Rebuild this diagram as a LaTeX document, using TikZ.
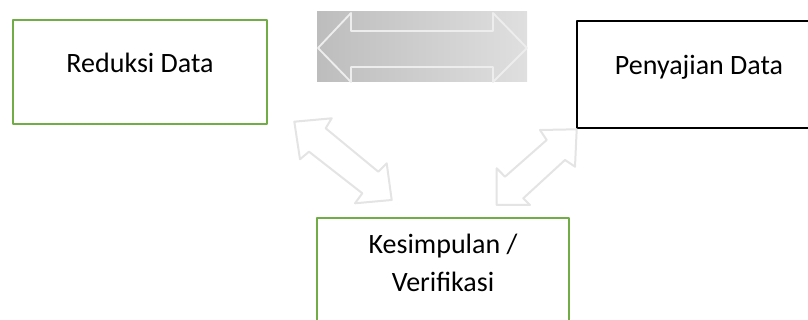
\documentclass[tikz,border=0pt]{standalone}
\usepackage{fontspec}
\setmainfont{Carlito}
\definecolor{verde}{HTML}{70AD47}
\definecolor{grigiofreccia}{HTML}{E4E4E4}
\definecolor{grigioscuro}{HTML}{BDBDBD}
\definecolor{grigiochiaro}{HTML}{DFDFDF}
\tikzset{
  kotak/.style={draw, line width=2pt, inner sep=0pt, line join=round},
  teks/.style={font=\fontsize{21}{28.5}\selectfont, inner sep=0pt, align=center, anchor=base},
  freccia/.style={draw=grigiofreccia, line width=1.5pt, fill=white, line join=round}
}
\begin{document}
\begin{tikzpicture}[x=0.75pt, y=-0.75pt]
    \useasboundingbox (0,0) rectangle (808,320);
    %disegno box Reduksi Data
    \node[kotak, verde, minimum width=190.5pt, minimum height=78pt] (reduksi) at (140,72) {};
    \node[teks] (treduksi) at ([yshift=-0.75pt]reduksi.center) {Reduksi Data};
    %disegno box Penyajian Data
    \node[kotak, black, minimum width=183pt, minimum height=80.25pt] (penyajian) at (699,74.5) {};
    \node[teks] (tpenyajian) at (penyajian.center) {Penyajian Data};
    %disegno box Kesimpulan / Verifikasi
    \node[kotak, verde, minimum width=189pt, minimum height=80.25pt] (kesimpulan) at (443,271.5) {};
    \node[teks] (tkesimpulan) at ([yshift=-56.25pt]kesimpulan.north) {Kesimpulan /\\Verifikasi};
    %%%%%%%%%%%%%%%%%%%%%%%%%%%%%%%%%%%%%%%%%%%%%%%%%%%%%%%%%%%%%%%%%%%%%%%%%%
    %disegno freccia orizzontale su sfondo grigio
    \shade[left color=grigioscuro, right color=grigiochiaro] (317,12) rectangle (527,82);
    \draw[draw=white!93!black, line width=1.4pt, line join=round]
      (318,48)--(351,13)--(351,31)--(493,31)--(493,13)--(527,48)--(493,82)--(493,67)--(351,67)--(351,82)--cycle;
    %disegno freccia Reduksi - Kesimpulan
    \draw[freccia] (294.3,121.7)--(331.7,118.3)--(325.7,128.3)--(378.3,171.7)--(386.7,163.3)--(391.7,200)
      --(355,203.3)--(362.3,193.3)--(309,151.7)--(300,159.3)--cycle;
    %disegno freccia Penyajian - Kesimpulan
    \draw[freccia] (576.7,129.3)--(540,130)--(546.7,140)--(505,176.7)--(496.7,168.3)--(496.7,205)
      --(530,205)--(523.3,198.3)--(565,160)--(575,166.7)--cycle;
\end{tikzpicture}
\end{document}
